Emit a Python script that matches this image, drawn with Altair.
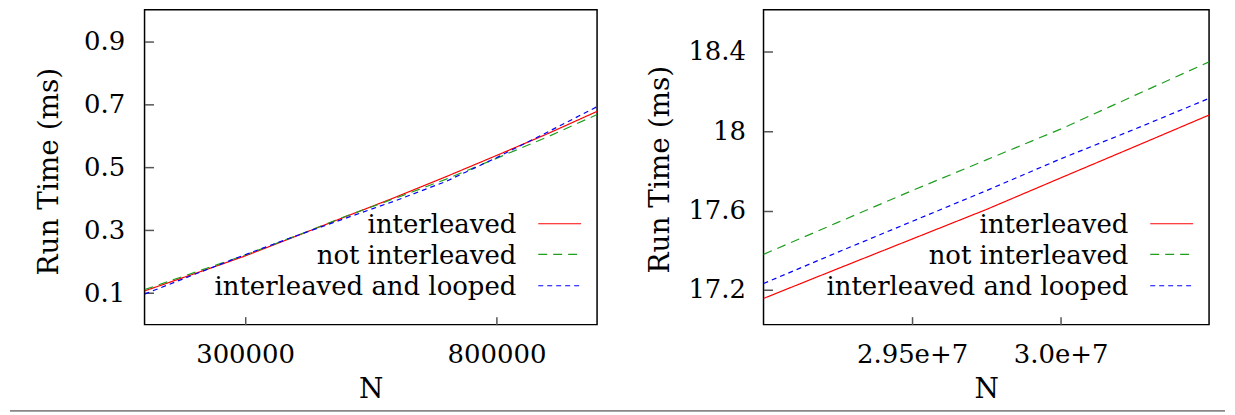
import altair as alt
import pandas as pd

# ---------------- data ----------------
series_names = ["interleaved", "not interleaved", "interleaved and looped"]
series_colors = ["#ff0000", "#1f9e1f", "#0000ff"]
series_dashes = [[1, 0], [9, 6], [5, 4]]

left_N = [100000, 200000, 300000, 400000, 500000, 600000, 700000, 800000, 900000, 1000000]
left_interleaved = [0.107, 0.162, 0.218, 0.280, 0.343, 0.405, 0.470, 0.537, 0.605, 0.677]
left_not_interleaved = [0.111, 0.166, 0.221, 0.281, 0.344, 0.402, 0.462, 0.528, 0.595, 0.667]
left_looped = [0.097, 0.160, 0.222, 0.281, 0.338, 0.394, 0.455, 0.530, 0.610, 0.692]

right_N = [29000000, 29250000, 29500000, 29750000, 30000000, 30250000, 30500000]
right_interleaved = [17.157, 17.307, 17.456, 17.605, 17.764, 17.922, 18.081]
right_not_interleaved = [17.379, 17.540, 17.700, 17.855, 18.010, 18.180, 18.349]
right_looped = [17.232, 17.390, 17.545, 17.700, 17.860, 18.010, 18.165]

left_xticks = [300000, 800000]
left_yticks = [0.1, 0.3, 0.5, 0.7, 0.9]
right_xticks = [29500000, 30000000]
right_xtick_labels = ["2.95e+7", "3.0e+7"]
right_yticks = [17.2, 17.6, 18.0, 18.4]

x_title = "N"
y_title = "Run Time (ms)"

FONT = "DejaVu Serif"
FS = 26
TFS = 28


def long_df(N, cols):
    rows = []
    for name, vals in zip(series_names, cols):
        for n, v in zip(N, vals):
            rows.append({"N": n, "t": v, "series": name})
    return pd.DataFrame(rows)


def panel(df, w, h, xdom, ydom, xaxis_kw, yaxis_kw, title_x, title_y, label_pad, extra_rule=False):
    xaxis = alt.Axis(
        values=xaxis_kw["values"], offset=-8, tickSize=8, labelPadding=17,
        title=x_title, titleX=w / 2, titleY=81.5, titleBaseline="alphabetic",
        titleAlign="center", **{k: v for k, v in xaxis_kw.items() if k != "values"}
    )
    yaxis = alt.Axis(
        values=yaxis_kw["values"], offset=-9, tickSize=9, labelPadding=label_pad,
        title=y_title, titleX=title_x, titleY=title_y, titleAngle=270,
        titleBaseline="alphabetic", titleAlign="center",
        **{k: v for k, v in yaxis_kw.items() if k != "values"}
    )
    lines = alt.Chart(df).mark_line(strokeWidth=1.2, clip=True).encode(
        x=alt.X("N:Q", scale=alt.Scale(domain=xdom, nice=False, zero=False), axis=xaxis),
        y=alt.Y("t:Q", scale=alt.Scale(domain=ydom, nice=False, zero=False), axis=yaxis),
        color=alt.Color("series:N", scale=alt.Scale(domain=series_names, range=series_colors), legend=None),
        strokeDash=alt.StrokeDash("series:N", scale=alt.Scale(domain=series_names, range=series_dashes), legend=None),
        detail="series:N",
    )
    layers = [lines]
    text_y = [224.3, 255.3, 286.3]
    line_y = [214.8, 245.6, 277.0]
    for i, name in enumerate(series_names):
        ldf = pd.DataFrame({"label": [name]})
        layers.append(
            alt.Chart(ldf).mark_text(
                font=FONT, fontSize=FS, align="right", baseline="alphabetic", color="black"
            ).encode(x=alt.value(w - 81), y=alt.value(text_y[i]), text="label:N")
        )
        layers.append(
            alt.Chart(ldf).mark_rule(
                color=series_colors[i], strokeDash=series_dashes[i], strokeWidth=1.2
            ).encode(x=alt.value(w - 59), x2=alt.value(w - 16), y=alt.value(line_y[i]))
        )
    if extra_rule:
        layers.append(
            alt.Chart(pd.DataFrame({"a": [0]})).mark_rule(color="#888888", strokeWidth=1.6).encode(
                x=alt.value(-135), x2=alt.value(1084), y=alt.value(402.5)
            )
        )
    return alt.layer(*layers).properties(width=w, height=h)


LW, RW, H = 454, 447, 316

left = panel(
    long_df(left_N, [left_interleaved, left_not_interleaved, left_looped]),
    LW, H, [100000, 1000000], [0.0, 1.0],
    {"values": left_xticks, "format": "d"},
    {"values": left_yticks, "format": ".1f"},
    title_x=-96, title_y=162, label_pad=20, extra_rule=True,
)

label_expr = " : ".join(
    f"datum.value == {v} ? '{s}'" for v, s in zip(right_xticks[:-1], right_xtick_labels[:-1])
) + f" : '{right_xtick_labels[-1]}'"

right = panel(
    long_df(right_N, [right_interleaved, right_not_interleaved, right_looped]),
    RW, H, [29000000, 30500000], [17.025, 18.612],
    {"values": right_xticks, "labelExpr": label_expr},
    {"values": right_yticks, "format": "~g"},
    title_x=-104, title_y=160, label_pad=18,
)

chart = alt.hconcat(left, right, spacing=167, bounds="flush").properties(
    padding={"left": 0, "top": 0, "right": 0, "bottom": 0}
).configure_view(
    stroke="black", strokeWidth=1.5
).configure_axis(
    grid=False, domain=False,
    labelFont=FONT, labelFontSize=FS, labelColor="black",
    titleFont=FONT, titleFontSize=TFS, titleFontWeight="normal", titleColor="black",
    tickColor="#555555", tickWidth=1.5,
)

chart.save("out.html", embed_options={"renderer": "svg", "actions": False})
